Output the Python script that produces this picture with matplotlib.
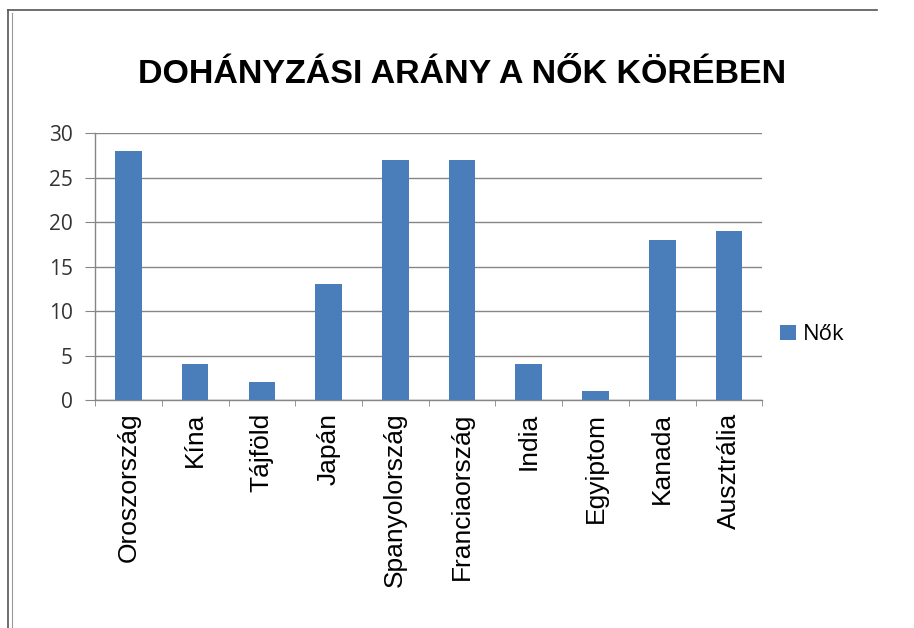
import matplotlib
matplotlib.use("Agg")
import matplotlib.pyplot as plt
from matplotlib.lines import Line2D
from matplotlib.patches import Patch
import numpy as np

# adatok
orszagok = ["Oroszország", "Kína", "Tájföld", "Japán", "Spanyolország",
            "Franciaország", "India", "Egyiptom", "Kanada", "Ausztrália"]
nok = [28, 4, 2, 13, 27, 27, 4, 1, 18, 19]
y_ticks = [0, 5, 10, 15, 20, 25, 30]

bar_color = "#4a7ebb"
grid_color = "#868686"

fig = plt.figure(figsize=(9.14, 6.28), dpi=100)
ax = fig.add_axes([0.104, 0.363, 0.73, 0.425])

x = np.arange(len(orszagok))
ax.bar(x, nok, width=0.4, color=bar_color, zorder=3)

ax.set_xlim(-0.5, len(orszagok) - 0.5)
ax.set_ylim(0, 30)
ax.set_yticks(y_ticks)
ax.yaxis.grid(True, color=grid_color, linewidth=1.0, zorder=0)
ax.set_axisbelow(True)

# kategória határok a tick vonalaknak
ax.set_xticks(x)
ax.set_xticklabels(orszagok, rotation=90, fontsize=19,
                   family=["Liberation Sans", "DejaVu Sans"])
ax.set_xticks(np.arange(len(orszagok) + 1) - 0.5, minor=True)
ax.tick_params(axis="x", which="major", length=0, pad=9)
ax.tick_params(axis="x", which="minor", length=4, color=grid_color, direction="out")
ax.tick_params(axis="y", length=7, color=grid_color, pad=9, labelcolor="#333333")
for lab in ax.get_yticklabels():
    lab.set_family(["Open Sans", "DejaVu Sans"])
    lab.set_fontsize(15)

for s in ["top", "right"]:
    ax.spines[s].set_visible(False)
for s in ["left", "bottom"]:
    ax.spines[s].set_color(grid_color)
    ax.spines[s].set_linewidth(1.0)

fig.text(0.505, 0.882, "DOHÁNYZÁSI ARÁNY A NŐK KÖRÉBEN", ha="center", va="center",
         fontsize=24.5, fontweight="bold", family=["Liberation Sans", "DejaVu Sans"])

leg = fig.legend(handles=[Patch(facecolor=bar_color, label="Nők")],
                 loc="center left", bbox_to_anchor=(0.832, 0.467), frameon=False,
                 handlelength=0.7, handleheight=0.7, handletextpad=0.3,
                 prop={"family": ["Open Sans", "DejaVu Sans"], "size": 16})

# keret a kép szélén
fig.add_artist(Line2D([0.009, 0.009], [0.0, 0.984], transform=fig.transFigure,
                      color="#555555", linewidth=1.2))
fig.add_artist(Line2D([0.013, 0.013], [0.0, 0.980], transform=fig.transFigure,
                      color="#999999", linewidth=0.8))
fig.add_artist(Line2D([0.009, 0.96], [0.984, 0.984], transform=fig.transFigure,
                      color="#555555", linewidth=1.2))

fig.savefig("out.png", dpi=100)
